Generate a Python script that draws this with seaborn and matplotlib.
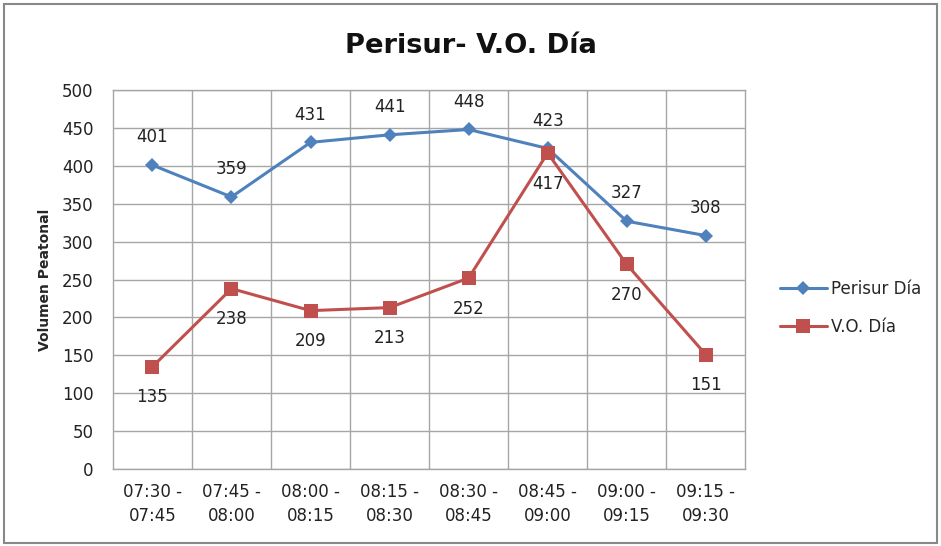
import seaborn as sns
import pandas as pd
import matplotlib.pyplot as plt
from matplotlib.patches import Rectangle

# values
periods = ['07:30 -\n07:45', '07:45 -\n08:00', '08:00 -\n08:15', '08:15 -\n08:30',
           '08:30 -\n08:45', '08:45 -\n09:00', '09:00 -\n09:15', '09:15 -\n09:30']
perisur = [401, 359, 431, 441, 448, 423, 327, 308]
vo = [135, 238, 209, 213, 252, 417, 270, 151]
series = ['Perisur Día', 'V.O. Día']

df = pd.DataFrame({
    'pos': list(range(len(periods))) * 2,
    'Volumen': perisur + vo,
    'Serie': [series[0]] * len(periods) + [series[1]] * len(periods),
})

sns.set_style('white')
plt.rcParams['font.family'] = ['DejaVu Sans']

fig = plt.figure(figsize=(9.41, 5.46), dpi=100)
ax = fig.add_axes([0.120, 0.141, 0.672, 0.694])

palette = {series[0]: '#4F81BD', series[1]: '#C0504D'}
sns.lineplot(data=df, x='pos', y='Volumen', hue='Serie', style='Serie',
             markers={series[0]: 'D', series[1]: 's'}, dashes=False,
             palette=palette, linewidth=2.2, markersize=8.5,
             markeredgewidth=0, ax=ax)

# bigger square markers for the red series
for line in ax.get_lines():
    if line.get_marker() == 's':
        line.set_markersize(10)
    elif line.get_marker() == 'D':
        line.set_markersize(7)

fs = 12
for i, v in enumerate(perisur):
    ax.annotate(str(v), (i, v), xytext=(0, 20), textcoords='offset points',
                ha='center', va='center', fontsize=fs, color='#222222')
for i, v in enumerate(vo):
    ax.annotate(str(v), (i, v), xytext=(0, -22), textcoords='offset points',
                ha='center', va='center', fontsize=fs, color='#222222')

ax.set_xlim(-0.5, len(periods) - 0.5)
ax.set_ylim(0, 500)
ax.set_yticks(range(0, 501, 50))
ax.set_xticks(range(len(periods)))
ax.set_xticklabels(periods, linespacing=1.45)
ax.set_xticks([i + 0.5 for i in range(len(periods) - 1)], minor=True)
ax.tick_params(axis='both', which='both', length=0, labelsize=fs, colors='#222222')
ax.tick_params(axis='x', pad=10)
ax.tick_params(axis='y', pad=14)
ax.grid(axis='y', which='major', color='#A6A6A6', linewidth=1)
ax.grid(axis='x', which='minor', color='#A6A6A6', linewidth=1)
ax.grid(axis='x', which='major', visible=False)
for s in ax.spines.values():
    s.set_color('#A6A6A6')
    s.set_linewidth(1)

ax.set_xlabel('')
ax.set_ylabel('Volumen Peatonal', fontsize=10, fontweight='bold', labelpad=7)

fig.text(0.5, 0.915, 'Perisur- V.O. Día', ha='center', va='center',
         fontsize=19.7, fontweight='bold', color='#111111')

handles, labels = ax.get_legend_handles_labels()
ax.legend(handles, labels, loc='center left', bbox_to_anchor=(0.813, 0.436),
          bbox_transform=fig.transFigure, frameon=False, fontsize=12,
          handlelength=2.8, handletextpad=0.25, labelspacing=1.2)

fig.patches.append(Rectangle((0.004, 0.006), 0.992, 0.986, transform=fig.transFigure,
                             fill=False, edgecolor='#888888', linewidth=1.5))

plt.savefig('out.png', dpi=100)
